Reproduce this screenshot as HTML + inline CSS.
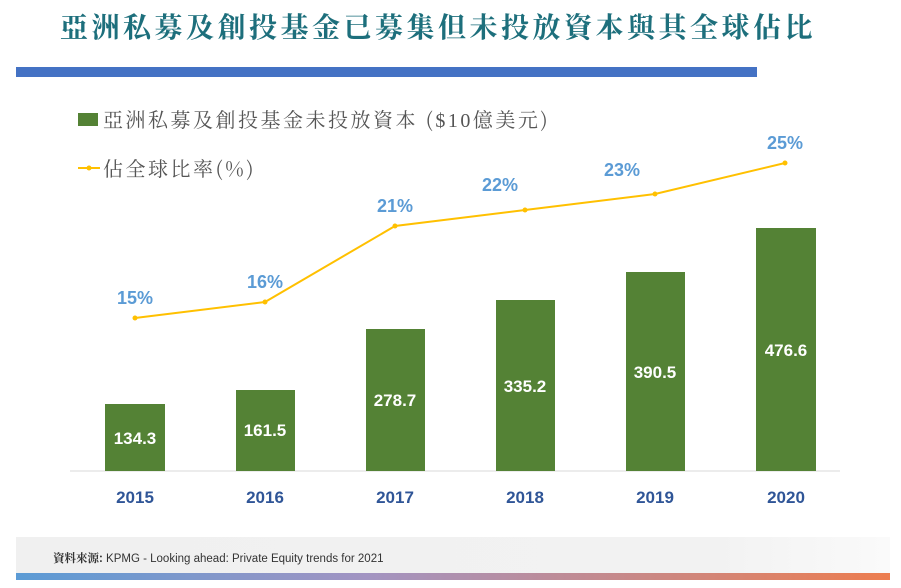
<!DOCTYPE html><html><head><meta charset="utf-8"><style>body{margin:0;width:901px;height:588px;background:#fff;overflow:hidden;position:relative}</style></head><body>
<svg width="901" height="588" style="position:absolute;left:0;top:0">
<defs><linearGradient id="g" x1="0" x2="1"><stop offset="0" stop-color="#5b9bd5"/><stop offset="0.4" stop-color="#a294c2"/><stop offset="1" stop-color="#ed7d4f"/></linearGradient>
<linearGradient id="f" x1="0" x2="1"><stop offset="0" stop-color="#f0f0f0"/><stop offset="0.8" stop-color="#f2f2f2"/><stop offset="1" stop-color="#fafafa"/></linearGradient></defs>
<text x="438" y="37" text-anchor="middle" font-family="'Noto Serif CJK SC','Noto Sans CJK TC',serif" font-size="28" font-weight="bold" fill="#1d6f7c" letter-spacing="3.5">亞洲私募及創投基金已募集但未投放資本與其全球佔比</text>
<rect x="16" y="67" width="741" height="10" fill="#4472c4"/>
<rect x="78" y="113" width="20" height="13" fill="#548235"/>
<text x="103" y="127" font-family="'Noto Serif CJK SC',serif" font-size="20" fill="#555" letter-spacing="2.5">亞洲私募及創投基金未投放資本 (<tspan font-family="'Liberation Serif',serif">$10</tspan>億美元)</text>
<line x1="78" y1="168" x2="100" y2="168" stroke="#ffc000" stroke-width="2"/><circle cx="89" cy="168" r="2.5" fill="#ffc000"/>
<text x="103" y="176" font-family="'Noto Serif CJK SC',serif" font-size="20" fill="#555" letter-spacing="2.5">佔全球比率(%)</text>
<line x1="70" y1="471" x2="840" y2="471" stroke="#d9d9d9" stroke-width="1"/>
<g fill="#548235">
<rect x="105" y="404" width="60" height="67"/><rect x="236" y="390" width="59" height="81"/><rect x="366" y="329" width="59" height="142"/><rect x="496" y="300" width="59" height="171"/><rect x="626" y="272" width="59" height="199"/><rect x="756" y="228" width="60" height="243"/></g>
<g font-family="'Liberation Sans',sans-serif" font-size="17" font-weight="bold" fill="#fff" text-anchor="middle">
<text x="135" y="444">134.3</text><text x="265" y="436">161.5</text><text x="395" y="406">278.7</text><text x="525" y="392">335.2</text><text x="655" y="378">390.5</text><text x="786" y="356">476.6</text></g>
<polyline points="135,318 265,302 395,226 525,210 655,194 785,163" fill="none" stroke="#ffc000" stroke-width="2"/>
<g fill="#ffc000"><circle cx="135" cy="318" r="2.5"/><circle cx="265" cy="302" r="2.5"/><circle cx="395" cy="226" r="2.5"/><circle cx="525" cy="210" r="2.5"/><circle cx="655" cy="194" r="2.5"/><circle cx="785" cy="163" r="2.5"/></g>
<g font-family="'Liberation Sans',sans-serif" font-size="18" font-weight="bold" fill="#5b9bd5" text-anchor="middle">
<text x="135" y="304">15%</text><text x="265" y="288">16%</text><text x="395" y="212">21%</text><text x="500" y="191">22%</text><text x="622" y="176">23%</text><text x="785" y="149">25%</text></g>
<g font-family="'Liberation Sans',sans-serif" font-size="17" font-weight="bold" fill="#2f5597" text-anchor="middle">
<text x="135" y="503">2015</text><text x="265" y="503">2016</text><text x="395" y="503">2017</text><text x="525" y="503">2018</text><text x="655" y="503">2019</text><text x="786" y="503">2020</text></g>
<rect x="16" y="537" width="874" height="37" fill="url(#f)"/>
<rect x="16" y="573" width="874" height="7" fill="url(#g)"/>
<text x="53" y="562" font-family="'Liberation Sans','Noto Sans CJK TC',sans-serif" font-size="11.5" fill="#333"><tspan font-weight="bold" font-family="'Noto Serif CJK SC',serif">資料來源:</tspan> KPMG - Looking ahead: Private Equity trends for 2021</text>
</svg></body></html>
